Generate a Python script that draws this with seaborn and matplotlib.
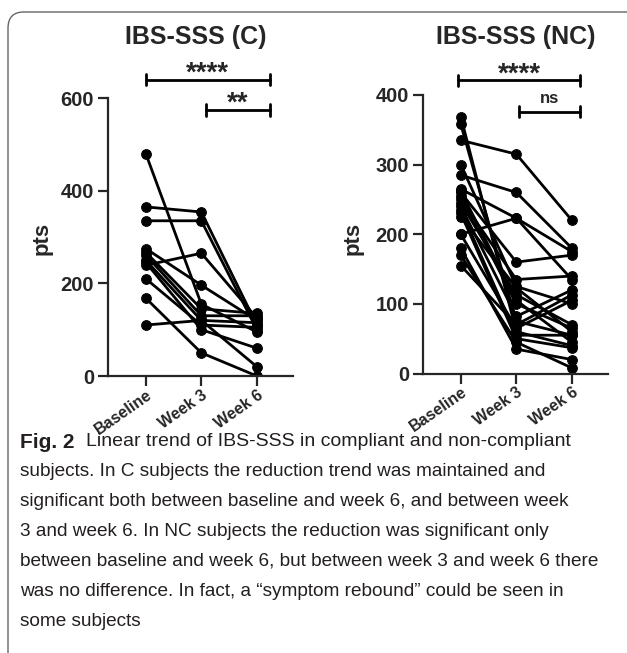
import numpy as np
import pandas as pd
import matplotlib
matplotlib.use('Agg')
import matplotlib.pyplot as plt
import seaborn as sns
from matplotlib.patches import FancyBboxPatch

sns.set_style('ticks')
plt.rcParams['font.family'] = ['Liberation Sans', 'DejaVu Sans']

timepoints = ['Baseline', 'Week 3', 'Week 6']

# compliant subjects (C)
c_base = [480, 365, 335, 275, 267, 261, 250, 245, 239, 210, 168, 110]
c_wk3 = [155, 354, 335, 196, 145, 130, 120, 100, 265, 110, 50, 120]
c_wk6 = [95, 110, 100, 120, 135, 130, 20, 60, 125, 105, 0, 115]

# non-compliant subjects (NC)
nc_base = [369, 358, 335, 300, 285, 265, 260, 255, 250, 245, 240, 235, 230, 225, 200, 180, 170, 155, 262, 200]
nc_wk3 = [60, 75, 315, 125, 260, 223, 160, 100, 135, 113, 82, 55, 50, 123, 65, 35, 45, 70, 105, 223]
nc_wk6 = [40, 55, 220, 100, 180, 135, 170, 65, 140, 70, 120, 55, 37, 60, 105, 20, 8, 113, 45, 175]


def to_long(base, wk3, wk6):
    rows = []
    for i, vals in enumerate(zip(base, wk3, wk6)):
        for t, v in enumerate(vals):
            rows.append({'subject': i, 'time': t, 'pts': v})
    return pd.DataFrame(rows)


df_c = to_long(c_base, c_wk3, c_wk6)
df_nc = to_long(nc_base, nc_wk3, nc_wk6)

fig = plt.figure(figsize=(6.27, 6.53), dpi=100)
W, H = 627, 653

# frame around figure + caption
frame = FancyBboxPatch((8 / W, -0.1), 1.2, (653 - 12) / H + 0.1,
                       boxstyle='round,pad=0,rounding_size=0.025',
                       transform=fig.transFigure, fill=False,
                       edgecolor='#666666', linewidth=1.0)
fig.patches.append(frame)

ax1 = fig.add_axes([108 / W, (H - 376) / H, 185 / W, 278 / H])
ax2 = fig.add_axes([423 / W, (H - 373.5) / H, 185 / W, 278.5 / H])


def panel(ax, df, ymax, ystep, title, title_x, bars, ylab_x):
    sns.lineplot(data=df, x='time', y='pts', units='subject', estimator=None,
                 color='black', lw=2.0, marker='o', markersize=7,
                 markeredgecolor='black', ax=ax, legend=False)
    ax.set_xlim(-0.68, 2.65)
    ax.set_ylim(0, ymax)
    ax.set_yticks(np.arange(0, ymax + 1, ystep))
    ax.set_xticks(range(3))
    ax.set_xticklabels(timepoints, rotation=35, ha='right', rotation_mode='anchor',
                       fontsize=11.5, fontweight='bold')
    for lab in ax.get_yticklabels():
        lab.set_fontsize(14.5)
        lab.set_fontweight('bold')
    ax.tick_params(width=1.6, length=7, pad=3)
    ax.tick_params(axis='x', pad=1)
    for s in ['left', 'bottom']:
        ax.spines[s].set_linewidth(1.6)
    sns.despine(ax=ax)
    ax.set_xlabel('')
    ax.set_ylabel('')
    fig.text(title_x / W, 1 - 37 / H, title, fontsize=18, fontweight='bold',
             ha='center', va='center')
    fig.text(ylab_x / W, 1 - 238 / H, 'pts', rotation=90, fontsize=16,
             fontweight='bold', ha='center', va='center')
    for x0, x1, y, label in bars:
        ax.plot([x0, x1], [y, y], color='black', lw=2, clip_on=False)
        dy = ymax * 0.02
        for xx in (x0, x1):
            ax.plot([xx, xx], [y - dy, y + dy], color='black', lw=2, clip_on=False)
        if label == 'ns':
            ax.text((x0 + x1) / 2, y + ymax * 0.02, label, ha='center', va='bottom',
                    fontsize=12, fontweight='bold', clip_on=False)
        else:
            ax.text((x0 + x1) / 2, y - ymax * 0.025, label, ha='center', va='bottom',
                    fontsize=20, fontweight='bold', clip_on=False)


panel(ax1, df_c, 600, 200, 'IBS-SSS (C)', 196,
      [(0, 2.23, 639, '****'), (1.08, 2.23, 574, '**')], 42)
panel(ax2, df_nc, 400, 100, 'IBS-SSS (NC)', 516,
      [(-0.05, 2.15, 421, '****'), (1.05, 2.15, 376, 'ns')], 353)

caption = [
    'subjects. In C subjects the reduction trend was maintained and',
    'significant both between baseline and week 6, and between week',
    '3 and week 6. In NC subjects the reduction was significant only',
    'between baseline and week 6, but between week 3 and week 6 there',
    'was no difference. In fact, a \u201csymptom rebound\u201d could be seen in',
    'some subjects',
]
txtcol = '#231f20'
fig.text(20 / W, 1 - 442 / H, 'Fig. 2', fontsize=15, fontweight='bold',
         color=txtcol, va='center')
fig.text(86 / W, 1 - 442 / H, 'Linear trend of IBS-SSS in compliant and non-compliant',
         fontsize=14, color=txtcol, va='center')
for i, line in enumerate(caption):
    fig.text(20 / W, 1 - (472 + 29.8 * i) / H, line, fontsize=13.7,
             color=txtcol, va='center')

fig.savefig('out.png', dpi=100)
